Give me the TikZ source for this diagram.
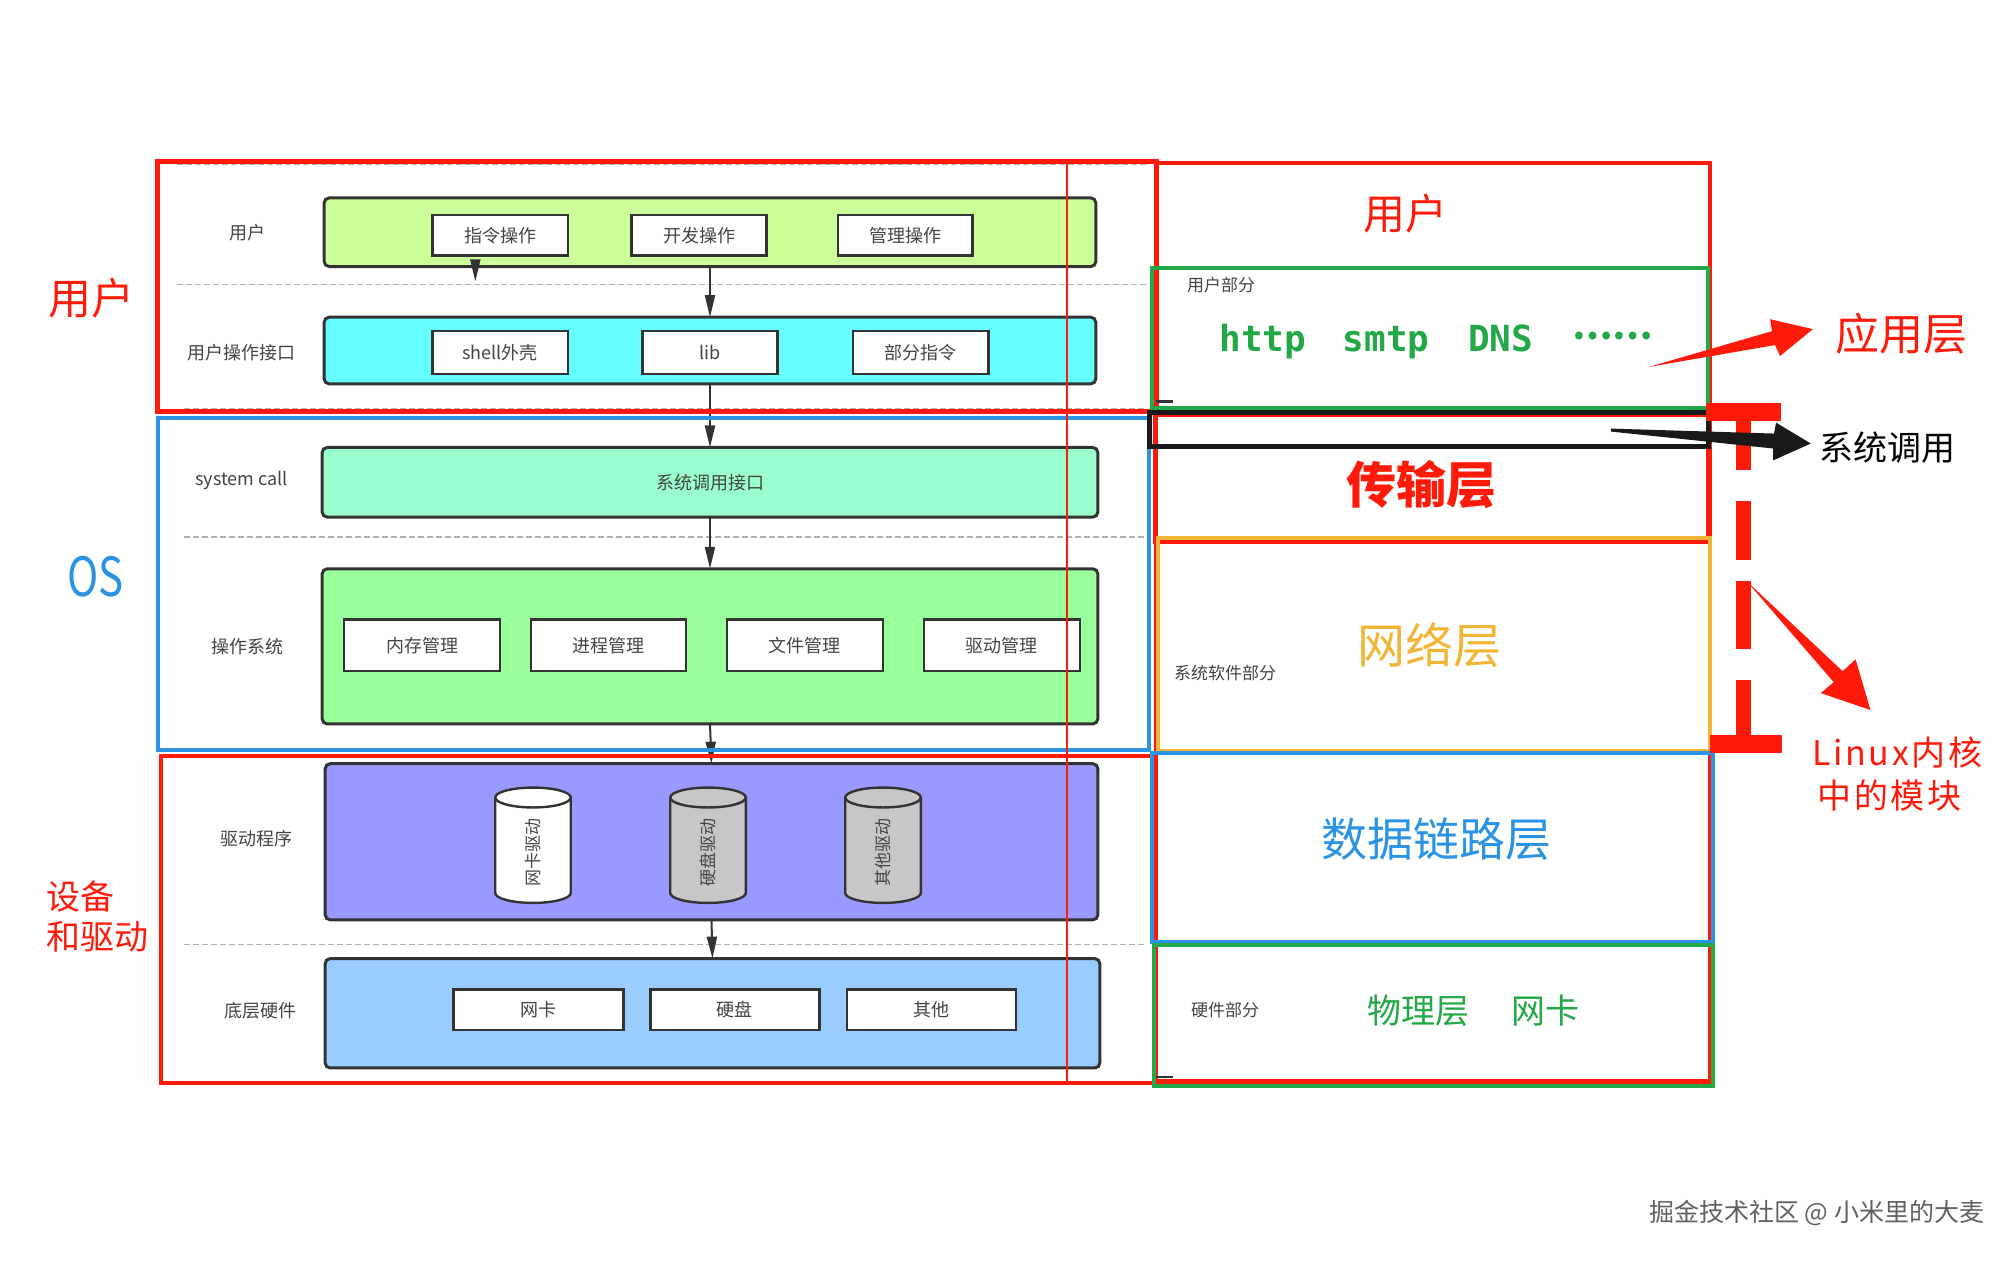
\documentclass[tikz,border=0pt]{standalone}
\usepackage{fontspec}
\setmainfont{Noto Sans CJK SC}
\newfontfamily\mono{DejaVu Sans Mono}
\usetikzlibrary{arrows.meta}
\newcommand\fs[1]{\fontsize{\fpeval{#1*0.5}}{\fpeval{#1*0.6}}\selectfont}
\definecolor{rd}{HTML}{FF1A0A}
\definecolor{bl}{HTML}{2B93E6}
\definecolor{gn}{HTML}{22A846}
\definecolor{yl}{HTML}{F2B636}
\definecolor{c1}{HTML}{CCFF99}
\definecolor{c2}{HTML}{66FFFF}
\definecolor{c3}{HTML}{99FFCC}
\definecolor{c4}{HTML}{99FF99}
\definecolor{c5}{HTML}{9999FF}
\definecolor{c6}{HTML}{99CCFF}
\definecolor{ink}{HTML}{333333}
\definecolor{lbl}{HTML}{444444}
\newcommand\bx[7]{\node[#1, minimum width={(#5-#3)*0.4972pt}, minimum height={(#6-#4)*0.4972pt}] (#2) at ({(#3+#5)/2},{(#4+#6)/2}) {#7};}
\newcommand\cyl[4]{%
 \path[draw=ink, line width=1.2pt, fill=#2] (#1-38,802) -- (#1-38,898) arc[start angle=180, end angle=0, x radius=38, y radius=10] -- (#1+38,802) arc[start angle=0, end angle=-180, x radius=38, y radius=10] -- cycle;
 \draw[ink, line width=1.2pt] (#1-38,802) arc[start angle=180, end angle=0, x radius=38, y radius=10];
 \node[rotate=90, font=\fs{17}, text=lbl] (#3) at (#1,857) {#4};}
\tikzset{
 layer/.style={draw=ink, line width=1.5pt, rounded corners=2.5pt, inner sep=0pt, outer sep=0pt},
 item/.style={draw=ink, line width=1.2pt, fill=white, inner sep=0pt, outer sep=0pt, font=\fs{18}, text=lbl},
 rowlbl/.style={font=\fs{18}, text=lbl, inner sep=0pt},
 smalllbl/.style={font=\fs{17}, text=lbl, inner sep=0pt},
 arr/.style={draw=ink, line width=1pt, -{Triangle[width=5pt,length=11pt]}},
 dashln/.style={draw=black!30, line width=0.6pt, dash pattern=on 3pt off 1.5pt},
 frm/.style={line width=2pt},
}
\begin{document}
\begin{tikzpicture}[x=0.4972pt,y=-0.4972pt]
\useasboundingbox (0pt,0pt) rectangle (1008pt,-630pt);
\fill[white] (0pt,0pt) rectangle (1008pt,-630pt);
% dashed separators
\foreach \yy/\xs in {165/178,286/178,411/185,540/185,753/185,950/185}
  \draw[dashln] (\xs,\yy) -- (1152,\yy);
% row labels
\node[rowlbl] (l1) at (249,234) {用户};
\node[rowlbl] (l2) at (243,355) {用户操作接口};
\node[rowlbl] (l3) at (243,483) {system call};
\node[rowlbl] (l4) at (249,650) {操作系统};
\node[rowlbl] (l5) at (258,843) {驱动程序};
\node[rowlbl] (l6) at (262,1016) {底层硬件};
% layers
\bx{layer, fill=c1}{u}{326}{199}{1102}{268}{}
\bx{item}{u1}{435}{216}{571}{257}{指令操作}
\bx{item}{u2}{635}{216}{771}{257}{开发操作}
\bx{item}{u3}{843}{216}{978}{257}{管理操作}
\bx{layer, fill=c2}{ui}{326}{319}{1102}{386}{}
\bx{item}{ui1}{435}{333}{571}{376}{shell外壳}
\bx{item}{ui2}{646}{333}{782}{376}{lib}
\bx{item}{ui3}{858}{333}{994}{376}{部分指令}
\bx{layer, fill=c3, font=\fs{18}, text=lbl}{sc}{324}{450}{1104}{520}{系统调用接口}
\bx{layer, fill=c4}{os}{324}{572}{1104}{728}{}
\bx{item}{os1}{346}{623}{503}{675}{内存管理}
\bx{item}{os2}{534}{623}{690}{675}{进程管理}
\bx{item}{os3}{731}{623}{888}{675}{文件管理}
\bx{item}{os4}{929}{623}{1086}{675}{驱动管理}
\bx{layer, fill=c5}{drv}{327}{768}{1104}{925}{}
\cyl{536}{white}{cy1}{网卡驱动}
\cyl{712}{black!22}{cy2}{硬盘驱动}
\cyl{888}{black!22}{cy3}{其他驱动}
\bx{layer, fill=c6}{hw}{327}{964}{1106}{1074}{}
\bx{item}{hw1}{456}{995}{627}{1036}{网卡}
\bx{item}{hw2}{654}{995}{824}{1036}{硬盘}
\bx{item}{hw3}{852}{995}{1022}{1036}{其他}
% arrows
\coordinate (sa) at (478,283);
\draw[arr] (u.south -| sa) -- (sa);
\draw[arr] (u.south) -- (ui.north);
\draw[arr] (ui.south) -- (sc.north);
\draw[arr] (sc.south) -- (os.north);
\draw[arr] (os.south) -- (drv.north);
\draw[arr] (drv.south) -- (hw.north);
% left frames
\draw[rd, frm, line width=2.4pt] (158,162) rectangle (1163,414);
\draw[bl, frm] (159,420) rectangle (1155,754);
\draw[rd, frm] (162,760) rectangle (1160,1089);
\draw[rd, line width=1.3pt] (1073,162) -- (1073,1089);
% right stack
\begin{scope}[xshift=3.5pt]
\draw[rd, frm] (1155,164) rectangle (1713,1088);
\draw[gn, frm] (1151,270) rectangle (1711,410);
\draw[rd, frm] (1154,417) rectangle (1711,545);
\draw[yl, frm] (1157,541) rectangle (1713,755);
\draw[bl, frm] (1151,757) rectangle (1716,947);
\draw[gn, frm] (1153,950) rectangle (1716,1092);
\draw[rd, frm] (1155,1087) -- (1712,1087);
\draw[black!90, line width=2.6pt] (1149,415) rectangle (1711,449);
\draw[ink, line width=1.4pt] (1155,404) -- (1173,404);
\draw[ink, line width=1.4pt] (1155,1083) -- (1173,1083);
\node[font=\fs{42}, text=rd] (rt1) at (1406,215) {用户};
\node[smalllbl] (rt2) at (1221,287) {用户部分};
\node[font=\mono\bfseries\fs{36}, text=gn, anchor=base] (p1) at (1263,353) {http};
\node[font=\mono\bfseries\fs{36}, text=gn, anchor=base] (p2) at (1387,353) {smtp};
\node[font=\mono\bfseries\fs{36}, text=gn, anchor=base] (p3) at (1502,353) {DNS};
\node[font=\bfseries\fs{36}, text=gn] (p4) at (1615,338) {……};
\node[font=\bfseries\fs{50}, text=rd] (rt3) at (1422,487) {传输层};
\node[font=\fs{48}, text=yl] (rt4) at (1431,649) {网络层};
\node[smalllbl] (rt5) at (1225,677) {系统软件部分};
\node[font=\fs{46}, text=bl] (rt6) at (1438,844) {数据链路层};
\node[smalllbl] (rt7) at (1225,1016) {硬件部分};
\node[font=\fs{34}, text=gn] (rt8) at (1419,1016) {物理层};
\node[font=\fs{34}, text=gn] (rt9) at (1547,1016) {网卡};
\end{scope}
\begin{scope}[xshift=4pt]
% T bracket
\fill[rd] (1708,405) rectangle (1783,423);
\fill[rd] (1738,423) rectangle (1753,473);
\fill[rd] (1738,504) rectangle (1753,563);
\fill[rd] (1738,584) rectangle (1753,653);
\fill[rd] (1738,684) rectangle (1753,740);
\fill[rd] (1712,739) rectangle (1784,757);
% annotation arrows
\fill[rd] (1650,369) -- (1777,347) -- (1782,358) -- (1815,331) -- (1772,321) -- (1774,333) -- cycle;
\fill[black!90] (1612,431) -- (1776,436) -- (1778,425) -- (1813,446) -- (1775,463) -- (1775,451) -- (1612,434) -- cycle;
\fill[rd] (1748,584) -- (1845,675) -- (1858,663) -- (1873,714) -- (1823,697) -- (1836,686) -- cycle;
\node[font=\fs{44}, text=rd] (a1) at (1904,336) {应用层};
\node[font=\fs{34}] (a2) at (1890,450) {系统调用};
\node[font=\fs{34}, text=rd] (a3) at (1900,757) {\addfontfeatures{LetterSpace=8}Linux内核};
\node[font=\fs{34}, text=rd] (a4) at (1892,800) {\addfontfeatures{LetterSpace=8}中的模块};
\end{scope}
% left labels
\node[font=\fs{43}, text=rd] (g1) at (92,300) {用户};
\node[font=\fs{54}, text=bl, xscale=0.78] (g2) at (96,580) {OS};
\node[font=\fs{34}, text=rd, anchor=west] (g3) at (40,902) {设备};
\node[font=\fs{34}, text=rd, anchor=west] (g4) at (40,942) {和驱动};
% watermark
\node[font=\fs{25}, text=black!62] (wm) at (1827,1220) {掘金技术社区 @ 小米里的大麦};
\end{tikzpicture}
\end{document}
